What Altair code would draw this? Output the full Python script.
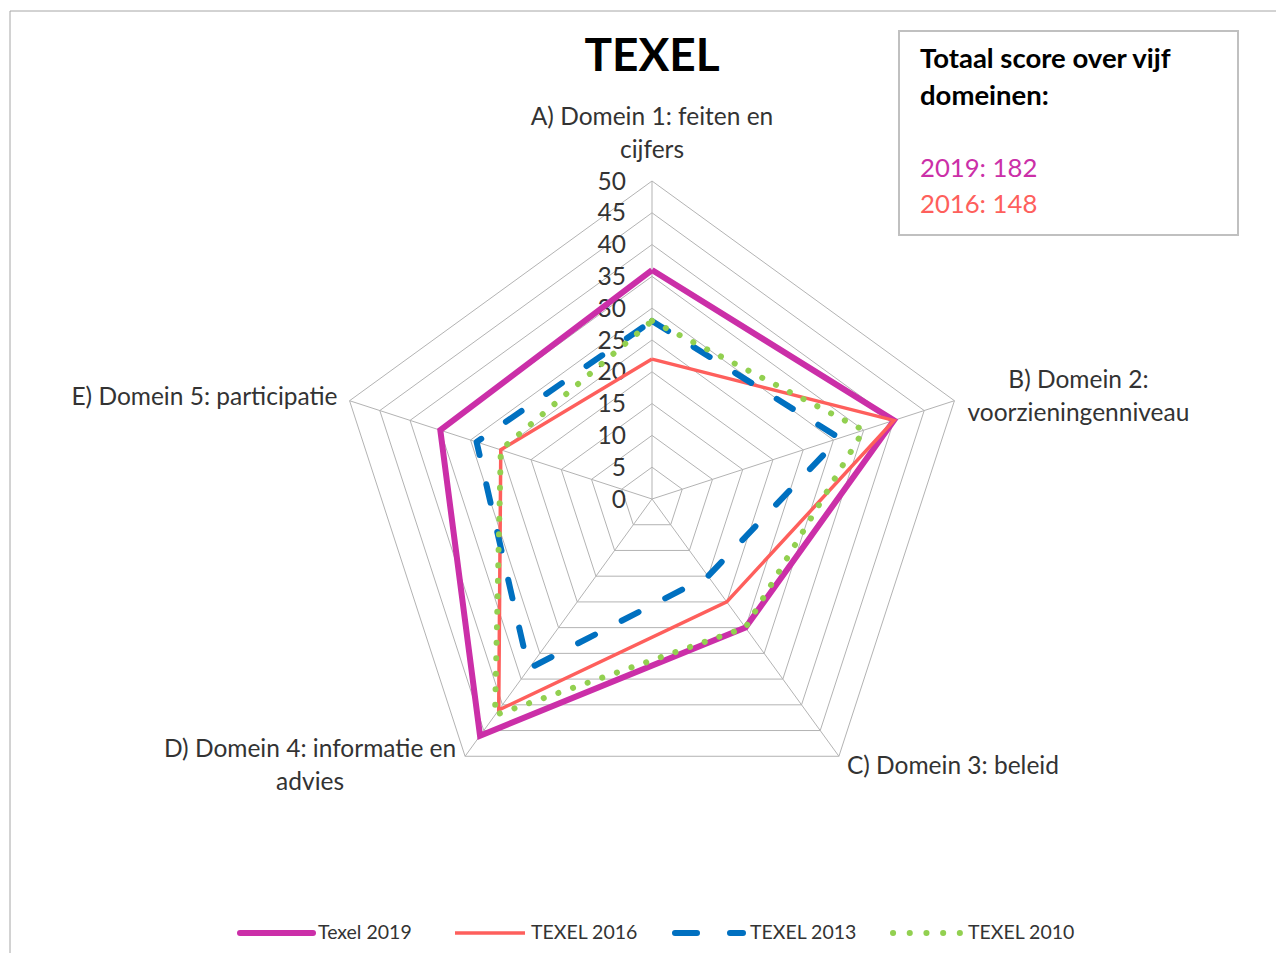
import altair as alt
import pandas as pd

# ---------------- data ----------------
categories = [
    "A) Domein 1: feiten en\ncijfers",
    "B) Domein 2:\nvoorzieningenniveau",
    "C) Domein 3: beleid",
    "D) Domein 4: informatie en\nadvies",
    "E) Domein 5: participatie",
]
series_names = ["Texel 2019", "TEXEL 2016", "TEXEL 2013", "TEXEL 2010"]
texel_2019 = [36, 40, 25, 46, 35]
texel_2016 = [22, 40, 20, 41, 25]
texel_2013 = [28, 31, 15, 33, 29]
texel_2010 = [28, 35, 25, 42, 25]
tick_values = [0, 5, 10, 15, 20, 25, 30, 35, 40, 45, 50]
tick_labels = ["0", "5", "10", "15", "20", "25", "30", "35", "40", "45", "50"]
title_text = "TEXEL"
box_title = ["Totaal score over vijf", "domeinen:"]
box_totals = ["2019: 182", "2016: 148"]

# ---------------- layout / style ----------------
FONT = "Lato"
W, H = 1268, 945
K = 6.36            # pixels per unit
CX, CY = 644, 491   # centre of radar in plot coords
xscale = alt.Scale(domain=[-CX / K, (W - CX) / K], nice=False, zero=False)
yscale = alt.Scale(domain=[-(H - CY) / K, CY / K], nice=False, zero=False)
N = len(categories)
RMAX = tick_values[-1]
LABEL_SIZE = 24.5
TEXT_COLOR = "#333333"

colors = ["#CB2FA8", "#FE5F5C", "#0070C0", "#92D050"]
styles = [
    dict(strokeWidth=6, strokeCap="butt", strokeJoin="miter"),
    dict(strokeWidth=3.5, strokeCap="butt", strokeJoin="miter"),
    dict(strokeWidth=6, strokeCap="round", strokeJoin="round", strokeDash=[19, 30]),
    dict(strokeWidth=6, strokeCap="round", strokeJoin="round", strokeDash=[0.1, 15.4]),
]
series_vals = [texel_2019, texel_2016, texel_2013, texel_2010]

calc_x = f"datum.value*sin(2*PI*datum.k/{N})"
calc_y = f"datum.value*cos(2*PI*datum.k/{N})"

def XY():
    return dict(
        x=alt.X("px:Q", scale=xscale, axis=None),
        y=alt.Y("py:Q", scale=yscale, axis=None),
    )

dummy = alt.Data(values=[{"a": 0}])
layers = []

# outer chart frame
layers.append(alt.Chart(dummy).mark_rule(color="#A6A6A6", strokeWidth=1).encode(
    x=alt.value(2), y=alt.value(3), y2=alt.value(H)))
layers.append(alt.Chart(dummy).mark_rule(color="#A6A6A6", strokeWidth=1).encode(
    x=alt.value(2), x2=alt.value(W), y=alt.value(3)))

# grid pentagons
grid_rows = [{"level": lv, "k": j, "value": lv} for lv in tick_values[1:] for j in range(N + 1)]
layers.append(
    alt.Chart(pd.DataFrame(grid_rows))
    .transform_calculate(px=calc_x, py=calc_y)
    .mark_line(color="#B3B3B3", strokeWidth=1)
    .encode(**XY(), detail="level:Q", order="k:Q")
)
# spokes
spoke_rows = [{"k": j, "value": RMAX} for j in range(N)]
layers.append(
    alt.Chart(pd.DataFrame(spoke_rows))
    .transform_calculate(px=calc_x, py=calc_y, z="0")
    .mark_rule(color="#B3B3B3", strokeWidth=1)
    .encode(**XY(), x2="z:Q", y2="z:Q")
)
# tick labels
layers.append(
    alt.Chart(pd.DataFrame({"level": tick_values, "label": tick_labels}))
    .transform_calculate(z="0")
    .mark_text(align="right", baseline="middle", dx=-26, dy=1.5, font=FONT, fontSize=LABEL_SIZE, color=TEXT_COLOR)
    .encode(x=alt.X("z:Q", scale=xscale, axis=None),
            y=alt.Y("level:Q", scale=yscale, axis=None),
            text="label:N")
)

# series
rows = []
for name, vals in zip(series_names, series_vals):
    for j in range(N + 1):
        rows.append({"series": name, "k": j, "value": vals[j % N]})
sdf = pd.DataFrame(rows)
for name, col, st in zip(series_names, colors, styles):
    layers.append(
        alt.Chart(sdf)
        .transform_filter(alt.datum.series == name)
        .transform_calculate(px=calc_x, py=calc_y)
        .mark_line(color=col, **st)
        .encode(**XY(), order="k:Q")
    )

# category labels
label_offsets = [
    dict(align="center", dx=0, dy=-63),
    dict(align="center", dx=124, dy=-20),
    dict(align="left", dx=8, dy=11),
    dict(align="center", dx=-155, dy=-6),
    dict(align="right", dx=-12, dy=-3),
]
cdf = pd.DataFrame({"k": list(range(N)), "label": categories, "value": [RMAX] * N})
for i, off in enumerate(label_offsets):
    layers.append(
        alt.Chart(cdf)
        .transform_filter(alt.datum.k == i)
        .transform_calculate(px=calc_x, py=calc_y)
        .mark_text(baseline="middle", lineBreak="\n", lineHeight=33, font=FONT,
                   fontSize=LABEL_SIZE, color=TEXT_COLOR, **off)
        .encode(**XY(), text="label:N")
    )

# title
layers.append(alt.Chart(dummy).mark_text(
    align="center", baseline="middle", font=FONT, fontSize=46, fontWeight="bold", color="#000000"
).encode(x=alt.value(644), y=alt.value(49), text=alt.value(title_text)))

# text box
layers.append(alt.Chart(dummy).mark_rect(fill="white", stroke="#C0C0C0", strokeWidth=2).encode(
    x=alt.value(891), x2=alt.value(1230), y=alt.value(23), y2=alt.value(227)))
for txt, yy in zip(box_title, [52, 89]):
    layers.append(alt.Chart(dummy).mark_text(
        align="left", baseline="middle", font=FONT, fontSize=27.5, fontWeight="bold", color="#000000"
    ).encode(x=alt.value(912), y=alt.value(yy), text=alt.value(txt)))
for txt, yy, col in zip(box_totals, [161, 197], colors[:2]):
    layers.append(alt.Chart(dummy).mark_text(
        align="left", baseline="middle", font=FONT, fontSize=25.7, color=col
    ).encode(x=alt.value(912), y=alt.value(yy), text=alt.value(txt)))

# legend
LY = 925
leg = [
    (232, 305, 310),
    (447, 517, 523),
    (667, 735, 742),
    (885, 952, 960),
]
leg_styles = [
    dict(strokeWidth=6, strokeCap="round"),
    dict(strokeWidth=3.5, strokeCap="butt"),
    dict(strokeWidth=6, strokeCap="round", strokeDash=[22, 33]),
    dict(strokeWidth=6, strokeCap="round", strokeDash=[0.1, 16.6]),
]
for name, col, (x0, x1, xt), st in zip(series_names, colors, leg, leg_styles):
    layers.append(alt.Chart(dummy).mark_rule(color=col, **st).encode(
        x=alt.value(x0), x2=alt.value(x1), y=alt.value(LY)))
    layers.append(alt.Chart(dummy).mark_text(
        align="left", baseline="middle", font=FONT, fontSize=19.5, color=TEXT_COLOR
    ).encode(x=alt.value(xt), y=alt.value(LY), text=alt.value(name)))

chart = alt.layer(*layers).properties(
    width=W, height=H, padding=0, autosize=alt.AutoSizeParams(type="none"),
    background="white",
).configure_view(stroke=None)

chart.save("out.html", embed_options={"renderer": "svg", "actions": False})
